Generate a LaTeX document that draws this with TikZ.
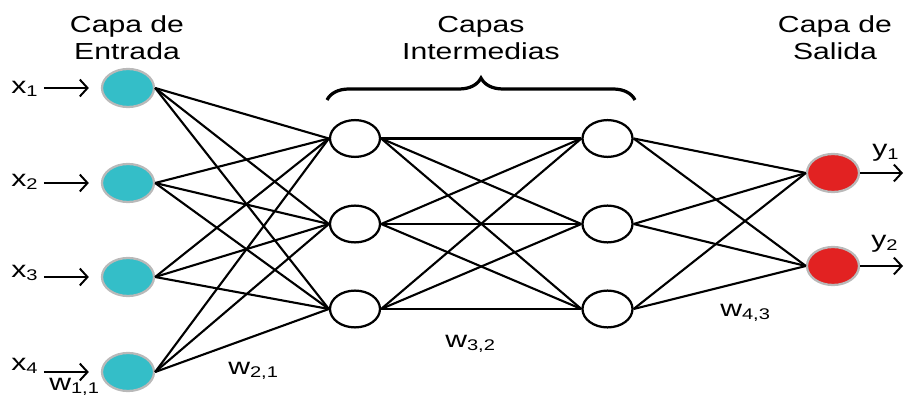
\documentclass[tikz,border=0pt]{standalone}
\usepackage{fontspec}
\setmainfont{Liberation Sans}[FakeStretch=1.3]
\usetikzlibrary{shapes.geometric, arrows.meta, decorations.pathreplacing}

\definecolor{incolor}{RGB}{52,190,200}
\definecolor{outcolor}{RGB}{226,34,34}

% lowered index after a label letter
\newcommand{\idx}[1]{\raisebox{-1.8pt}{\fontsize{11}{10}\selectfont #1}}

\tikzset{
  innode/.style={ellipse, fill=incolor, draw=gray!55, line width=1.6pt,
    minimum width=1.3cm, minimum height=0.95cm, inner sep=0pt},
  outnode/.style={innode, fill=outcolor},
  hidnode/.style={ellipse, fill=white, draw=black, line width=1.6pt,
    minimum width=1.25cm, minimum height=0.92cm, inner sep=0pt},
  link/.style={black, line width=1.5pt},
  ioarrow/.style={line width=1.4pt, -{Straight Barb[length=5.5pt, width=12pt]}},
  title/.style={align=center, font=\fontsize{16.5}{19.5}\selectfont},
  lbl/.style={inner sep=0pt, anchor=base west, font=\fontsize{16.5}{18}\selectfont}
}

\begin{document}
\begin{tikzpicture}[x=0.025cm, y=-0.025cm]
  \useasboundingbox (0,0) rectangle (904,399);

  % layer titles
  \node[title] (tin)  at (127,38) {Capa de\\Entrada};
  \node[title] (thid) at (481,38) {Capas\\Intermedias};
  \node[title] (tout) at (835,38) {Capa de\\Salida};

  % brace over the hidden layers
  \draw[line width=2.3pt, decorate, decoration={brace, amplitude=0.55cm}]
    (327,100) -- (635,100);

  % input layer
  \foreach \i/\y in {1/88, 2/183, 3/277, 4/372}
    \node[innode] (in\i) at (128,\y) {};

  % hidden layers
  \foreach \j/\y in {1/138.5, 2/224, 3/309} {
    \node[hidnode] (ha\j) at (355,\y) {};
    \node[hidnode] (hb\j) at (607.5,\y) {};
  }

  % output layer
  \foreach \k/\y in {1/173, 2/266}
    \node[outnode] (out\k) at (833,\y) {};

  % connections
  \foreach \i in {1,...,4}
    \foreach \j in {1,2,3}
      \draw[link] (in\i.east) -- (ha\j.west);
  \foreach \i in {1,2,3}
    \foreach \j in {1,2,3}
      \draw[link] (ha\i.east) -- (hb\j.west);
  \foreach \i in {1,2,3}
    \foreach \k in {1,2}
      \draw[link] (hb\i.east) -- (out\k.west);

  % inputs
  \node[lbl] (xl1) at (11,94)  {x\idx{1}};
  \node[lbl] (xl2) at (11,187) {x\idx{2}};
  \node[lbl] (xl3) at (11,278) {x\idx{3}};
  \node[lbl] (xl4) at (11,371) {x\idx{4}};
  \foreach \i in {1,...,4}
    \draw[ioarrow, shorten <=0.15cm, shorten >=0.3cm] (xl\i.east |- in\i.west) -- (in\i.west);

  % outputs
  \coordinate (yend1) at (903,173);
  \coordinate (yend2) at (903,266);
  \node[lbl] (yl1) at (872,157) {y\idx{1}};
  \node[lbl] (yl2) at (871,248) {y\idx{2}};
  \foreach \k in {1,2}
    \draw[ioarrow] (out\k.east) -- (yend\k);

  % weights
  \node[lbl] (w11) at (49,391)  {w\idx{1,1}};
  \node[lbl] (w21) at (228,375) {w\idx{2,1}};
  \node[lbl] (w32) at (445,348) {w\idx{3,2}};
  \node[lbl] (w43) at (720,317) {w\idx{4,3}};
\end{tikzpicture}
\end{document}
